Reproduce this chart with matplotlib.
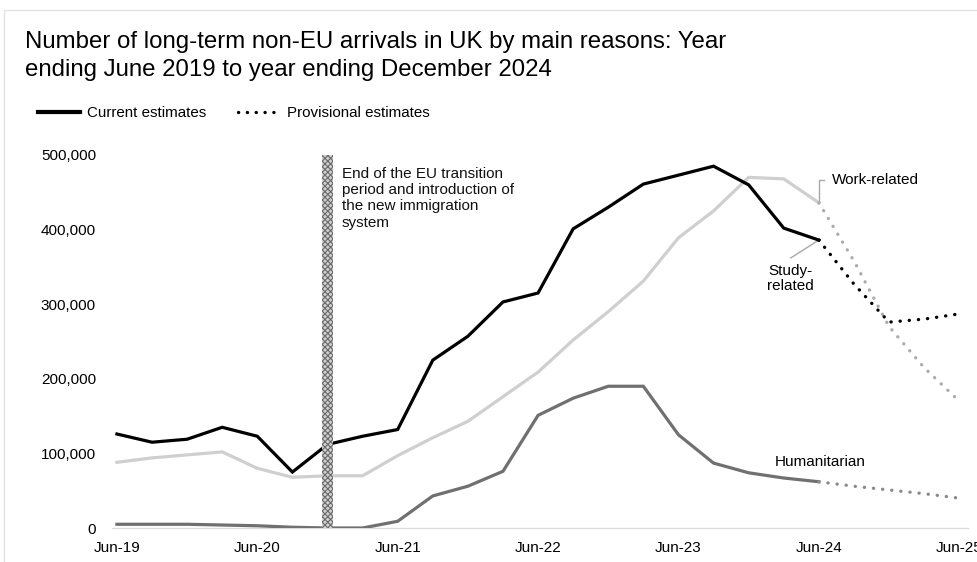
import matplotlib
matplotlib.use("Agg")
import matplotlib.pyplot as plt
from matplotlib.lines import Line2D
from matplotlib.patches import Rectangle

plt.rcParams["font.family"] = ["Liberation Sans", "DejaVu Sans"]
plt.rcParams["hatch.linewidth"] = 0.8

# Quarterly periods (year ending), Jun-19 .. Jun-25
quarters = ["Jun-19", "Sep-19", "Dec-19", "Mar-20", "Jun-20", "Sep-20", "Dec-20",
            "Mar-21", "Jun-21", "Sep-21", "Dec-21", "Mar-22", "Jun-22", "Sep-22",
            "Dec-22", "Mar-23", "Jun-23", "Sep-23", "Dec-23", "Mar-24", "Jun-24",
            "Sep-24", "Dec-24", "Mar-25", "Jun-25"]
tick_labels = ["Jun-19", "Jun-20", "Jun-21", "Jun-22", "Jun-23", "Jun-24", "Jun-25"]

# Current estimates (Jun-19 .. Jun-24)
study_current = [126000, 115000, 119000, 135000, 123000, 75000, 112000, 123000, 132000,
                 225000, 257000, 303000, 315000, 401000, 430000, 461000, 473000, 485000,
                 460000, 402000, 386000]
work_current = [88000, 94000, 98000, 102000, 80000, 68000, 70000, 70000, 97000,
                121000, 143000, 176000, 209000, 252000, 290000, 331000, 389000, 425000,
                470000, 468000, 436000]
human_current = [5000, 5000, 5000, 4000, 3000, 1000, 0, 0, 9000,
                 43000, 56000, 76000, 151000, 174000, 190000, 190000, 125000, 87000,
                 74000, 67000, 62000]

# Provisional estimates (Jun-24 .. Jun-25)
study_prov = [386000, 327000, 276000, 280000, 287000]
work_prov = [436000, 358000, 270000, 215000, 170000]
human_prov = [62000, 56000, 51000, 46000, 40000]

c_study = "#000000"
c_work = "#cfcfcf"
c_work_dot = "#acacac"
c_human = "#707070"
c_human_dot = "#8a8a8a"

W, H = 978, 562
fig = plt.figure(figsize=(W / 100, H / 100), dpi=100)
ax = fig.add_axes([112 / W, (H - 528) / H, 856 / W, (528 - 155) / H])

x_cur = list(range(len(study_current)))
x_prov = list(range(len(study_current) - 1, len(quarters)))

lw = 2.3
dot = dict(linestyle=(0, (0.05, 2.7)), dash_capstyle="round", linewidth=2.4)

ax.plot(x_cur, human_current, color=c_human, lw=lw, solid_joinstyle="miter", zorder=3)
ax.plot(x_cur, work_current, color=c_work, lw=lw, solid_joinstyle="miter", zorder=3)
ax.plot(x_cur, study_current, color=c_study, lw=lw, solid_joinstyle="miter", zorder=4)
ax.plot(x_prov, human_prov, color=c_human_dot, zorder=3, **dot)
ax.plot(x_prov, work_prov, color=c_work_dot, zorder=3, **dot)
ax.plot(x_prov, study_prov, color=c_study, zorder=4, **dot)

# Marker for the end of the EU transition period (Dec-20)
i_eu = quarters.index("Dec-20")
ax.axvspan(i_eu - 0.17, i_eu + 0.17, ymin=0, ymax=1, facecolor="#d0d0d0",
           edgecolor="#6a6a6a", hatch="xxxxxx", linewidth=0, zorder=5)
ax.text(i_eu + 0.4, 484000,
        "End of the EU transition\nperiod and introduction of\nthe new immigration\nsystem",
        fontsize=11, va="top", ha="left", linespacing=1.2, color="#111111")

# Series labels with leader lines
i_last = quarters.index("Jun-24")
wy = work_current[-1]
ax.plot([i_last, i_last, i_last + 0.15], [wy, 467000, 467000], color="#a8a8a8", lw=1.0, zorder=2)
ax.text(i_last + 0.37, 467000, "Work-related", fontsize=11, va="center", ha="left")

sy = study_current[-1]
ax.plot([i_last, i_last - 0.8], [sy, 362000], color="#a8a8a8", lw=1.0, zorder=2)
ax.text(i_last - 0.82, 334000, "Study-\nrelated", fontsize=11, va="center", ha="center",
        linespacing=1.1)

ax.text(18.75, 88000, "Humanitarian", fontsize=11, va="center", ha="left")

# Axes styling
ax.set_xlim(-0.14, 24.25)
ax.set_ylim(0, 500000)
ax.set_xticks([quarters.index(t) for t in tick_labels])
ax.set_xticklabels(tick_labels, fontsize=11)
ax.set_yticks(range(0, 500001, 100000))
ax.set_yticklabels([f"{v:,}" for v in range(0, 500001, 100000)], fontsize=11)
ax.tick_params(axis="both", length=0)
ax.tick_params(axis="x", pad=9)
ax.tick_params(axis="y", pad=11.5)
for s in ["top", "right", "left"]:
    ax.spines[s].set_visible(False)
ax.spines["bottom"].set_color("#dcdcdc")
ax.spines["bottom"].set_linewidth(1.0)
ax.spines["bottom"].set_zorder(1)

# Title
fig.text(25 / W, 1 - 31 / H,
         "Number of long-term non-EU arrivals in UK by main reasons: Year\n"
         "ending June 2019 to year ending December 2024",
         fontsize=17.3, va="top", ha="left", linespacing=1.33)

# Legend
handles = [Line2D([], [], color="black", lw=3),
           Line2D([], [], color="black", linestyle=(0, (0.05, 2.6)),
                  dash_capstyle="round", lw=2.4)]
fig.legend(handles, ["Current estimates", "Provisional estimates"],
           loc="center left", bbox_to_anchor=(38 / W, 1 - 113 / H), ncol=2,
           frameon=False, fontsize=10.9, handlelength=2.75, handletextpad=0.5,
           columnspacing=2.1, borderpad=0, borderaxespad=0)

# Panel frame
fig.add_artist(Rectangle((4 / W, -0.1), 1.2, 1 - 10 / H + 0.1, transform=fig.transFigure,
                         fill=False, edgecolor="#e3e3e3", linewidth=1.0))

fig.savefig("out.png", dpi=100)
